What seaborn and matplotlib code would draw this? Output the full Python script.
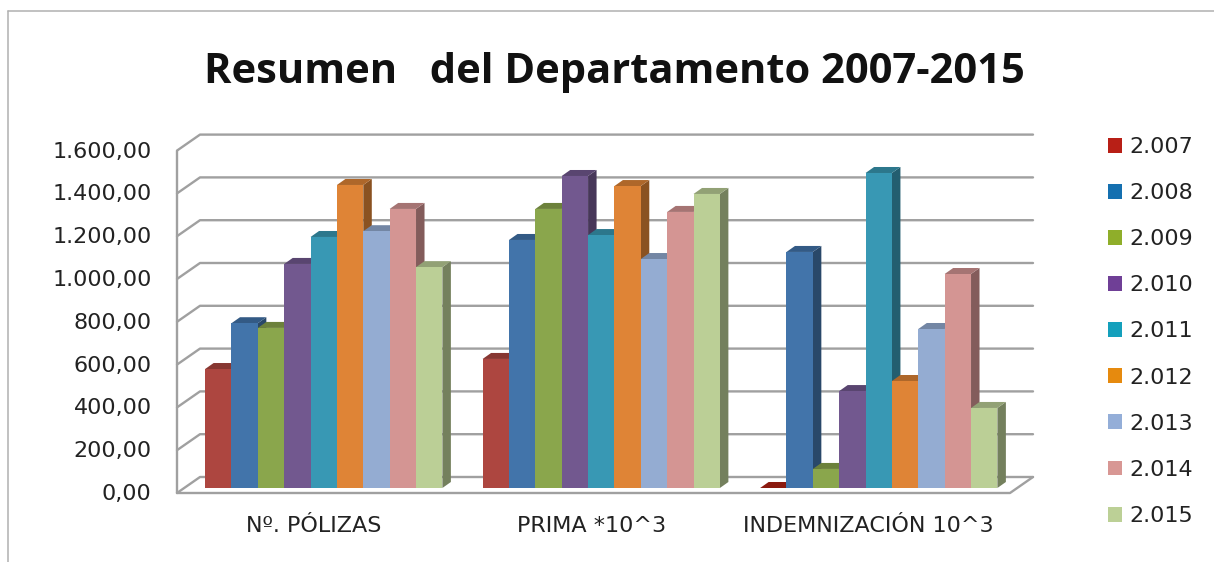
import matplotlib
matplotlib.use("Agg")
import matplotlib.pyplot as plt
import seaborn as sns
import pandas as pd
from matplotlib.patches import Polygon, Patch
from matplotlib.lines import Line2D
from matplotlib.transforms import IdentityTransform, ScaledTranslation
from matplotlib.colors import to_rgb

categories = ["Nº. PÓLIZAS", "PRIMA *10^3", "INDEMNIZACIÓN 10^3"]
years = ["2.007", "2.008", "2.009", "2.010", "2.011", "2.012", "2.013", "2.014", "2.015"]
polizas = [556, 770, 748, 1047, 1173, 1416, 1200, 1304, 1032]
prima = [603, 1159, 1304, 1458, 1182, 1411, 1070, 1290, 1374]
indemnizacion = [0, 1103, 89, 453, 1472, 500, 743, 1000, 374]
bar_colors = ["#AD4640", "#4274AA", "#8AA64C", "#72588F", "#3898B4", "#DF8436", "#94ACD2", "#D49593", "#BBCF96"]
legend_colors = ["#B81F16", "#1570B0", "#8FAE2A", "#6F3F96", "#14A0BC", "#E68A0E", "#94AED8", "#D89794", "#BCD096"]
yticks = [0, 200, 400, 600, 800, 1000, 1200, 1400, 1600]
yticklabels = ["0,00", "200,00", "400,00", "600,00", "800,00", "1.000,00", "1.200,00", "1.400,00", "1.600,00"]

W, H = 1214, 562
sns.set_theme(style="white")
plt.rcParams["font.family"] = ["DejaVu Sans"]
fig = plt.figure(figsize=(W / 100, H / 100), dpi=100, facecolor="white")
ax = fig.add_axes([185 / W, (H - 488) / H, 832.5 / W, 342.4 / H])

rows = []
for name, vals in zip(categories, [polizas, prima, indemnizacion]):
    for y, v in zip(years, vals):
        rows.append({"cat": name, "year": y, "value": v})
df = pd.DataFrame(rows)
sns.barplot(data=df, x="cat", y="value", hue="year", order=categories, hue_order=years,
            palette=bar_colors, saturation=1, width=0.855, gap=0, legend=False, ax=ax, linewidth=0)
ax.set_xlim(-0.5, 2.5)
ax.set_ylim(0, 1600)
ax.set_xlabel("")
ax.set_ylabel("")
for s in ax.spines.values():
    s.set_visible(False)
ax.patch.set_alpha(0)

ident = IdentityTransform()
def Y(v, off=0):
    return ax.transData.transform((0, v))[1] - off

GRID = "#A0A0A0"
def seg(xs, ys, **kw):
    ax.add_line(Line2D(xs, ys, transform=ident, color=GRID, lw=1.7, zorder=1, clip_on=False,
                       solid_capstyle="round", **kw))

# walls and gridlines (back wall sits above and to the right of the front plane)
for v in yticks:
    seg([177, 200, 1033], [Y(v, 5), Y(v, -11), Y(v, -11)])
seg([177, 177], [Y(0, 5), Y(1600, 5)])
seg([177, 1010, 1033], [Y(0, 5), Y(0, 5), Y(0, -11)])

# depth faces of each bar, derived from the bar rectangles
DX, DY = 8.5, 6
for i, cont in enumerate(ax.containers):
    base = to_rgb(bar_colors[i])
    side = tuple(c * 0.62 for c in base)
    top = tuple(c * 0.78 for c in base)
    for bar in cont:
        (x0, y0), (x1, y1) = ax.transData.transform(
            [(bar.get_x(), bar.get_y()), (bar.get_x() + bar.get_width(), bar.get_y() + bar.get_height())])
        z = 3 + i
        bar.set_zorder(z + 0.5)
        if y1 > y0 + 0.5:
            ax.add_patch(Polygon([(x1, y0), (x1 + DX, y0 + DY), (x1 + DX, y1 + DY), (x1, y1)],
                                 closed=True, transform=ident, fc=side, ec="none", zorder=z, clip_on=False))
        ax.add_patch(Polygon([(x0, y1), (x1, y1), (x1 + DX, y1 + DY), (x0 + DX, y1 + DY)],
                             closed=True, transform=ident, fc=top if y1 > y0 + 0.5 else "#8B1A0F",
                             ec="none", zorder=z, clip_on=False))

# ticks
ax.set_yticks(yticks)
ax.set_yticklabels(yticklabels)
ax.tick_params(axis="y", length=0, pad=24, labelsize=16, labelcolor="#222222")
ax.tick_params(axis="x", length=0, pad=20.5, labelsize=16, labelcolor="#222222")
for lab in ax.get_yticklabels():
    lab.set_transform(lab.get_transform() + ScaledTranslation(0, -4 / 100, fig.dpi_scale_trans))
for lab in ax.get_xticklabels():
    lab.set_transform(lab.get_transform() + ScaledTranslation(-10 / 100, 0, fig.dpi_scale_trans))

handles = [Patch(fc=c, ec="none") for c in legend_colors]
fig.legend(handles, years, loc="upper left", bbox_to_anchor=(1108 / W, 1 - 137 / H), bbox_transform=fig.transFigure,
           frameon=False, fontsize=16, labelcolor="#222222", handlelength=0.65, handleheight=0.65,
           handletextpad=0.33, labelspacing=1.175, borderpad=0, borderaxespad=0)

fig.text(614 / W, 1 - 83 / H, "Resumen   del Departamento 2007-2015", ha="center", va="baseline",
         fontsize=30, fontweight="bold", family="Open Sans", color="#111111")

# outer frame of the source picture
for xs, ys in [([8, W], [H - 10.5, H - 10.5]), ([8, 8], [H - 10.5, 0])]:
    fig.add_artist(Line2D(xs, ys, transform=ident, color="#B0B0B0", lw=1.1))

fig.savefig("out.png", dpi=100)
